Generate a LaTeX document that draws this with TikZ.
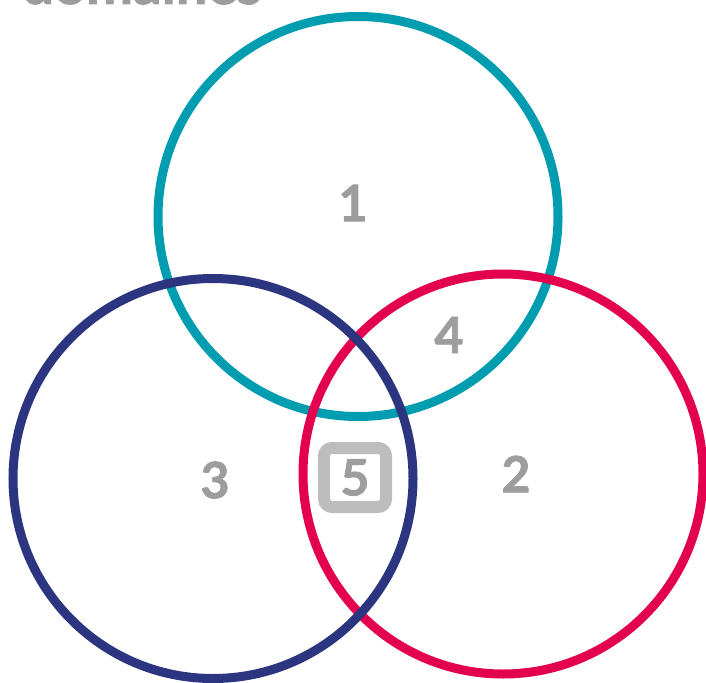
\documentclass[tikz,border=0pt]{standalone}
\usepackage{fontspec}
\setmainfont{Lato}[BoldFeatures={FakeBold=1.6}]
\definecolor{domteal}{HTML}{009DB0}
\definecolor{domnavy}{HTML}{2B3580}
\definecolor{domred}{HTML}{E3004F}
\definecolor{domgray}{HTML}{9D9D9D}
\definecolor{boxgray}{HTML}{BDBDBD}
\tikzset{
  ring/.style={draw=#1, circle, line width=9pt, inner sep=0pt, minimum size=400pt},
  num/.style={text=domgray, font=\fontsize{50}{50}\selectfont\bfseries, inner sep=0pt}
}
\begin{document}
\begin{tikzpicture}[x=1pt, y=-1pt]
\useasboundingbox (0,0) rectangle (706,682);
\node[text=domgray, font=\fontsize{56}{56}\selectfont\bfseries, anchor=base west, inner sep=0pt] (title) at (22,4) {domaines};
\node[ring=domteal] (c1) at (358,216.5) {};
\node[ring=domred] (c2) at (503,474) {};
\node[ring=domnavy] (c3) at (213,478.5) {};
\node[num] (n1) at (353,203) {1};
\node[num] (n2) at (516,474) {2};
\node[num] (n3) at (215,480) {3};
\node[num] (n4) at (449,335) {4};
\node[draw=boxgray, line width=12pt, rounded corners=8pt, minimum width=62pt, minimum height=59pt, inner sep=0pt] (box5) at (355,477.5) {};
\node[num] (n5) at (box5) {5};
\end{tikzpicture}
\end{document}
